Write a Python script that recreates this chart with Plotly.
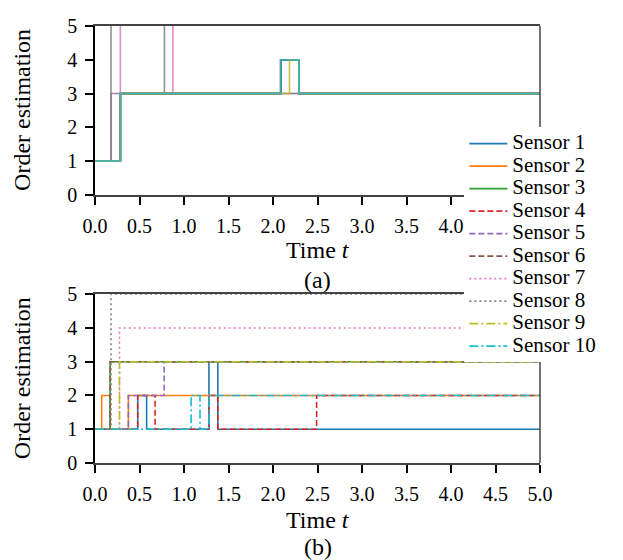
import plotly.graph_objects as go

# ---------------- data ----------------
sensor_names = [f"Sensor {i}" for i in range(1, 11)]
colors = ["#1f77b4", "#ff7f0e", "#2ca02c", "#d62728", "#9467bd",
          "#8c564b", "#e377c2", "#7f7f7f", "#bcbd22", "#17becf"]
dashes = ["solid", "solid", "solid", "6px,3px", "6px,3px", "6px,3px",
          "2px,3px", "2px,3px", "9px,3px,2px,3px", "9px,3px,2px,3px"]

# panel (a): step change times and order estimates
a_t1 = [0, 0.285, 2.087, 2.29, 5.0];  a_v1 = [1, 3, 4, 3, 3]
a_t2 = [0, 0.285, 2.087, 2.29, 5.0];  a_v2 = [1, 3, 4, 3, 3]
a_t3 = [0, 0.285, 2.087, 2.29, 5.0];  a_v3 = [1, 3, 4, 3, 3]
a_t4 = [0, 0.285, 2.087, 2.29, 5.0];  a_v4 = [1, 3, 4, 3, 3]
a_t5 = [0, 0.18, 2.087, 2.29, 5.0];   a_v5 = [1, 3, 4, 3, 3]
a_t6 = [0, 0.285, 2.087, 2.29, 5.0];  a_v6 = [1, 3, 4, 3, 3]
a_t7 = [0, 0.285, 0.875, 5.0];        a_v7 = [1, 6, 3, 3]
a_t8 = [0, 0.18, 0.78, 5.0];          a_v8 = [1, 6, 3, 3]
a_t9 = [0, 0.285, 2.185, 2.29, 5.0];  a_v9 = [1, 3, 4, 3, 3]
a_t10 = [0, 0.285, 2.087, 2.29, 5.0]; a_v10 = [1, 3, 4, 3, 3]

# panel (b)
b_t1 = [0, 0.48, 0.58, 1.28, 1.38, 5.0];        b_v1 = [1, 2, 1, 3, 1, 1]
b_t2 = [0, 0.075, 0.17, 0.375, 5.0];            b_v2 = [1, 2, 1, 2, 2]
b_t3 = [0, 0.17, 5.0];                          b_v3 = [1, 3, 3]
b_t4 = [0, 0.48, 0.675, 1.28, 1.38, 2.49, 5.0]; b_v4 = [1, 2, 1, 2, 1, 2, 2]
b_t5 = [0, 0.375, 0.777, 5.0];                  b_v5 = [1, 2, 3, 3]
b_t6 = [0, 0.17, 5.0];                          b_v6 = [1, 3, 3]
b_t7 = [0, 0.275, 5.0];                         b_v7 = [1, 4, 4]
b_t8 = [0, 0.18, 5.0];                          b_v8 = [1, 5, 5]
b_t9 = [0, 0.275, 5.0];                         b_v9 = [1, 3, 3]
b_t10 = [0, 1.08, 1.18, 1.28, 5.0];             b_v10 = [1, 2, 1, 2, 2]

x_ticks = [0, 0.5, 1, 1.5, 2, 2.5, 3, 3.5, 4, 4.5, 5]
x_ticklabels_b = ["0.0", "0.5", "1.0", "1.5", "2.0", "2.5", "3.0", "3.5", "4.0", "4.5", "5.0"]
x_ticklabels_a = ["0.0", "0.5", "1.0", "1.5", "2.0", "2.5", "3.0", "3.5", "4.0", "", ""]
y_ticks = [0, 1, 2, 3, 4, 5]

a_data = [(a_t1, a_v1), (a_t2, a_v2), (a_t3, a_v3), (a_t4, a_v4), (a_t5, a_v5),
          (a_t6, a_v6), (a_t7, a_v7), (a_t8, a_v8), (a_t9, a_v9), (a_t10, a_v10)]
b_data = [(b_t1, b_v1), (b_t2, b_v2), (b_t3, b_v3), (b_t4, b_v4), (b_t5, b_v5),
          (b_t6, b_v6), (b_t7, b_v7), (b_t8, b_v8), (b_t9, b_v9), (b_t10, b_v10)]

FONT = "Liberation Serif"

fig = go.Figure()
for i, (t, v) in enumerate(a_data):
    fig.add_trace(go.Scatter(x=t, y=v, mode="lines", line_shape="hv",
                             line=dict(color=colors[i], width=1.6),
                             opacity=0.85, name=sensor_names[i], showlegend=False,
                             xaxis="x", yaxis="y"))
for i, (t, v) in enumerate(b_data):
    fig.add_trace(go.Scatter(x=t, y=v, mode="lines", line_shape="hv",
                             line=dict(color=colors[i], width=1.6, dash=dashes[i]),
                             name='<span style="font-size:21px">' + sensor_names[i] + '</span>',
                             showlegend=True, xaxis="x2", yaxis="y2"))

axis_common = dict(showgrid=False, zeroline=False, ticks="outside", ticklen=8,
                   tickwidth=1.5, tickcolor="black", ticklabelstandoff=4,
                   tickfont=dict(family=FONT, size=20, color="black"))

xa = dict(range=[0, 5], tickvals=x_ticks, showline=True,
          linecolor="#444", linewidth=1.5, mirror=True, **axis_common)
ya = dict(range=[0, 5], tickvals=y_ticks, showline=True, linecolor="black",
          linewidth=1.5, mirror=False, **axis_common)

# page body adds an 8px margin, so the figure is 8px smaller than the window
W, H = 615, 552
fig.update_layout(
    width=W, height=H,
    margin=dict(l=87, r=83, t=7, b=97),
    paper_bgcolor="white", plot_bgcolor="white",
    font=dict(family=FONT, size=20, color="black"),
    xaxis=dict(domain=[0, 1], anchor="y", ticktext=x_ticklabels_a, **xa),
    yaxis=dict(domain=[0.6138, 1.0], anchor="x", **ya),
    xaxis2=dict(domain=[0, 1], anchor="y2", ticktext=x_ticklabels_b, **xa),
    yaxis2=dict(domain=[0, 0.3862], anchor="x2", **ya),
    legend=dict(x=0.83, y=0.768, xanchor="left", yanchor="top",
                bgcolor="white", borderwidth=0,
                font=dict(family=FONT, size=15, color="black"),
                itemwidth=38),
    shapes=[
        dict(type="line", xref="x domain", yref="y domain", x0=1, x1=1, y0=0, y1=1,
             line=dict(color="#444", width=1.5)),
        dict(type="line", xref="x2 domain", yref="y2 domain", x0=1, x1=1, y0=0, y1=1,
             line=dict(color="#444", width=1.5)),
    ],
    annotations=[
        dict(text="Time <i>t</i>", xref="paper", yref="paper", x=0.5, y=(463 - 245) / 448,
             xanchor="center", yanchor="middle", showarrow=False,
             font=dict(family=FONT, size=24)),
        dict(text="(a)", xref="paper", yref="paper", x=0.5, y=(463 - 275) / 448,
             xanchor="center", yanchor="middle", showarrow=False,
             font=dict(family=FONT, size=24)),
        dict(text="Time <i>t</i>", xref="paper", yref="paper", x=0.5, y=(463 - 521) / 448,
             xanchor="center", yanchor="middle", showarrow=False,
             font=dict(family=FONT, size=24)),
        dict(text="(b)", xref="paper", yref="paper", x=0.5, y=(463 - 549) / 448,
             xanchor="center", yanchor="middle", showarrow=False,
             font=dict(family=FONT, size=24)),
        dict(text="Order estimation", xref="paper", yref="paper", x=(22 - 95) / 445,
             y=(463 - 101) / 448, xanchor="center", yanchor="middle", textangle=-90,
             showarrow=False, font=dict(family=FONT, size=24)),
        dict(text="Order estimation", xref="paper", yref="paper", x=(22 - 95) / 445,
             y=(463 - 376) / 448, xanchor="center", yanchor="middle", textangle=-90,
             showarrow=False, font=dict(family=FONT, size=24)),
    ],
)

fig.write_html("out.html")
